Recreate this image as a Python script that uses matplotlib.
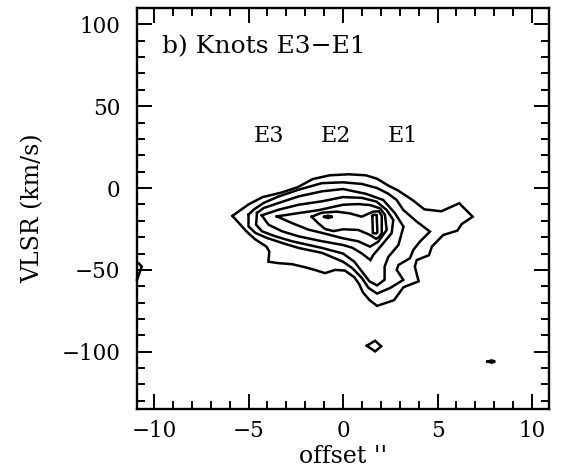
import matplotlib
matplotlib.use("Agg")
import matplotlib.pyplot as plt
from matplotlib.ticker import MultipleLocator

# ---- data (offset in arcsec, velocity in km/s) ----
c1_x = [-5.85, -5.0, -4.25, -3.3, -2.4, -1.6, -0.7, 0.3, 1.2, 1.8, 2.4, 2.9, 3.7, 4.3, 5.2, 6.15, 6.86, 6.28, 6.05, 5.3, 4.7, 4.55, 3.9, 3.8, 4.0, 3.2, 2.7, 1.8, 1.4, 1.05, 0.85, 0.6, 0.1, -0.42, -0.95, -1.5, -2.0, -2.7, -3.4, -3.95, -3.9, -4.05, -4.65, -5.1, -5.85]
c1_y = [-17, -10, -5.5, -2.9, 0.5, 5.5, 7.8, 8.4, 7.8, 5.7, 1.5, -1.4, -7.5, -13, -14.2, -9.3, -17.5, -22, -26, -28.7, -35.8, -41, -44, -48, -57, -60.6, -68.5, -72, -68.4, -63.7, -58.6, -54.5, -50.4, -50, -52, -50, -48.4, -46.5, -45.9, -45, -38.8, -35.8, -31.3, -26.6, -17]

c2_x = [-5.0, -4.73, -4.2, -3.4, -2.35, -1.11, 0.0, 1.0, 1.8, 2.4, 2.84, 3.19, 3.9, 4.6, 4.07, 3.72, 3.54, 2.93, 2.84, 3.19, 2.5, 1.8, 1.35, 1.0, 0.5, 0.0, -1.11, -2.35, -3.23, -4.02, -4.64, -5.0, -5.0]
c2_y = [-16.3, -13.2, -9.1, -5.1, -1.0, 3.0, 3.5, 2.5, 0.0, -3.5, -7.3, -13.4, -20.5, -26.6, -32.7, -37.8, -42.9, -47.0, -50.0, -56.1, -61.0, -64.5, -61.0, -55.0, -49.0, -45.0, -39.6, -36.6, -33.5, -30.5, -27.4, -23.4, -16.3]

c3_x = [-4.55, -4.2, -3.4, -2.35, -1.11, 0.0, 1.2, 2.13, 2.75, 3.2, 2.93, 2.4, 2.2, 2.2, 1.8, 1.4, 1.0, 0.6, 0.0, -1.11, -2.7, -3.58, -4.29, -4.6, -4.55]
c3_y = [-15.2, -12.2, -9.1, -5.1, -2.0, -0.6, -3.5, -7.3, -15.4, -23.6, -34.8, -42.0, -48.0, -56.0, -59.5, -57.0, -51.0, -45.0, -40.0, -36.6, -32.5, -29.5, -26.4, -22.4, -15.2]

c4_x = [-4.3, -3.4, -2.35, -1.11, 0.0, 1.0, 1.78, 2.31, 2.66, 2.57, 2.13, 1.6, 1.45, 1.0, 0.5, 0.0, -1.11, -2.35, -3.23, -3.94, -4.3]
c4_y = [-16.7, -13.2, -10.2, -8.1, -5.5, -6.0, -8.3, -13.4, -19.5, -27.6, -33.7, -40.9, -44.0, -40.0, -36.5, -34.8, -32.5, -29.5, -26.4, -22.4, -16.7]

c5_x = [-3.5, -2.35, -1.29, 0.0, 0.8, 1.43, 1.96, 2.22, 2.31, 1.87, 1.43, 0.8, 0.0, -1.11, -1.83, -2.7, -3.5]
c5_y = [-17.3, -15.3, -13.5, -10.2, -9.8, -10.4, -12.4, -16.5, -25.6, -32.7, -35.8, -32.5, -30.7, -27.4, -25.4, -21.4, -17.3]

c6_x = [-1.66, -1.13, -0.34, 0.37, 0.99, 1.6, 1.9, 2.05, 2.05, 1.9, 1.75, 1.4, 0.81, 0.02, -0.51, -0.95, -1.31, -1.66]
c6_y = [-17.5, -15.1, -14.4, -15.5, -17.5, -14.4, -14.2, -17.0, -27.5, -30.0, -31.0, -28.5, -25.6, -25.2, -26.3, -25.0, -21.5, -17.5]

# small inner peaks (E2 dot and E1 loop)
p1_x = [-1.0, -0.8, -0.55, -0.8, -1.0]
p1_y = [-17.6, -16.9, -17.6, -18.3, -17.6]
p2_x = [1.55, 1.62, 1.78, 1.82, 1.75, 1.58, 1.55]
p2_y = [-17.0, -16.3, -16.5, -27.0, -27.8, -27.5, -17.0]

# isolated low-level islands
d1_x = [1.26, 1.7, 2.02, 1.7, 1.26]
d1_y = [-96.3, -93.3, -96.7, -99.8, -96.3]
d2_x = [7.65, 7.87, 8.05, 7.87, 7.65]
d2_y = [-106.0, -105.3, -106.0, -106.7, -106.0]
e1_x = [-10.9, -10.65, -10.8]
e1_y = [-56.0, -48.0, -46.0]

contours = [(c1_x, c1_y), (c2_x, c2_y), (c3_x, c3_y), (c4_x, c4_y),
            (c5_x, c5_y), (c6_x, c6_y), (p1_x, p1_y), (p2_x, p2_y),
            (d1_x, d1_y), (d2_x, d2_y), (e1_x, e1_y)]

knot_names = ["E3", "E2", "E1"]
knot_x = [-3.9, -0.36, 3.15]
knot_y = 32.0

title_text = "b) Knots E3\u2212E1"
xlabel = "offset ''"
ylabel = "VLSR (km/s)"

# ---- figure ----
plt.rcParams['font.family'] = ['DejaVu Serif']
plt.rcParams['axes.linewidth'] = 1.7

fig = plt.figure(figsize=(5.68, 4.74), dpi=100)
ax = fig.add_axes([0.2412, 0.1371, 0.7254, 0.846])

for cx, cy in contours:
    ax.plot(cx, cy, color='black', lw=1.8, solid_joinstyle='miter', clip_on=False)

for name, kx in zip(knot_names, knot_x):
    ax.text(kx, knot_y, name, ha='center', va='center', fontsize=16)

ax.text(-9.6, 82.5, title_text, ha='left', va='baseline', fontsize=18)

ax.set_xlim(-10.9, 10.9)
ax.set_ylim(-135, 110)

ax.xaxis.set_major_locator(MultipleLocator(5))
ax.xaxis.set_minor_locator(MultipleLocator(1))
ax.yaxis.set_major_locator(MultipleLocator(50))
ax.yaxis.set_minor_locator(MultipleLocator(10))
ax.tick_params(which='both', direction='in', top=True, right=True, width=1.4, labelsize=15.5)
ax.tick_params(which='major', length=11)
ax.tick_params(which='minor', length=6)
ax.tick_params(axis='x', pad=8)
ax.tick_params(axis='y', pad=12)

ax.set_xlabel(xlabel, fontsize=17, labelpad=2)
ax.set_ylabel(ylabel, fontsize=17, labelpad=12)

fig.savefig("out.png", dpi=100)
